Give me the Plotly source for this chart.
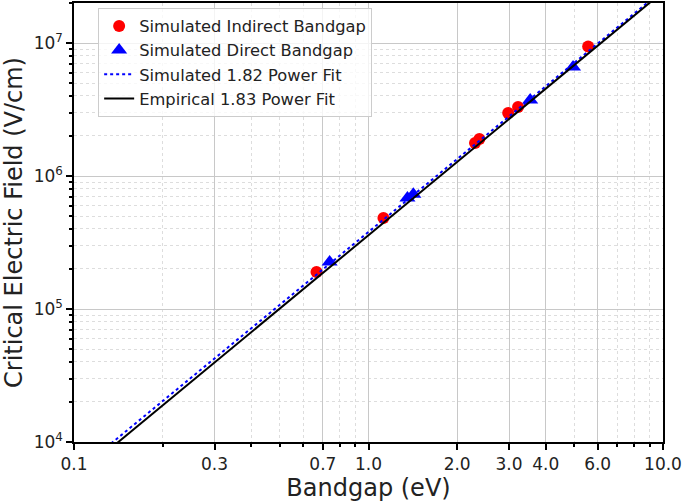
import plotly.graph_objects as go

# simulated indirect bandgap points (eV, V/cm)
indirect_eg = [0.666, 1.124, 2.30, 2.38, 2.98, 3.22, 5.57]
indirect_ec = [1.90e5, 4.83e5, 1.77e6, 1.90e6, 2.98e6, 3.30e6, 9.4e6]

# simulated direct bandgap points
direct_eg = [0.738, 1.356, 1.42, 3.54, 4.95]
direct_ec = [2.26e5, 6.83e5, 7.3e5, 3.73e6, 6.6e6]

# fit lines, read at the ends of the x range
fit_eg = [0.1, 10.0]
sim_fit_ec = [5.75e3, 2.51e7]
emp_fit_ec = [5.3e3, 2.43e7]

x_ticks = [0.1, 0.3, 0.7, 1.0, 2.0, 3.0, 4.0, 6.0, 10.0]
x_minor = [0.2, 0.4, 0.5, 0.6, 0.8, 0.9, 5.0, 7.0, 8.0, 9.0]
y_ticks = [1e4, 1e5, 1e6, 1e7]
y_minor = [m * 10 ** d for d in range(4, 8) for m in range(2, 10)]

font = "DejaVu Sans, Verdana, sans-serif"

fig = go.Figure()
fig.add_trace(go.Scatter(x=indirect_eg, y=indirect_ec, mode="markers", name="Simulated Indirect Bandgap",
    marker=dict(symbol="circle", size=12, color="red")))
fig.add_trace(go.Scatter(x=direct_eg, y=direct_ec, mode="markers", name="Simulated Direct Bandgap",
    marker=dict(symbol="triangle-up", size=14, color="blue")))
fig.add_trace(go.Scatter(x=fit_eg, y=sim_fit_ec, mode="lines", name="Simulated 1.82 Power Fit",
    line=dict(color="blue", width=2, dash="dot")))
fig.add_trace(go.Scatter(x=fit_eg, y=emp_fit_ec, mode="lines", name="Empirical 1.83 Power Fit",
    line=dict(color="black", width=2)))

axis_common = dict(
    showline=True, linecolor="black", linewidth=1.5, mirror=True,
    ticks="outside", ticklen=6, tickwidth=1.5, tickcolor="black",
    showgrid=True, gridcolor="#c8c8c8", gridwidth=1,
    tickfont=dict(size=17, color="#222"), zeroline=False, automargin=False,
)

fig.update_xaxes(type="log", range=[-1, 1], tickvals=x_ticks,
    ticktext=["{:.1f}".format(v) for v in x_ticks],
    title=dict(text="Bandgap (eV)", font=dict(size=24, color="#222"), standoff=2),
    minor=dict(tickvals=x_minor, ticks="outside", ticklen=3, tickcolor="black",
               showgrid=True, gridcolor="#dddddd", griddash="dot", gridwidth=1),
    **axis_common)
fig.update_yaxes(type="log", range=[4, 7.301], tickvals=y_ticks,
    ticktext=["10<sup>{}</sup>".format(d) for d in range(4, 8)],
    title=dict(text="Critical Electric Field (V/cm)", font=dict(size=24, color="#222"), standoff=4),
    minor=dict(tickvals=y_minor, ticks="outside", ticklen=3, tickcolor="black",
               showgrid=True, gridcolor="#dddddd", griddash="dot", gridwidth=1),
    **axis_common)

fig.update_layout(
    width=685, height=502,
    margin=dict(l=74, r=22, t=3, b=60),
    paper_bgcolor="white", plot_bgcolor="white",
    font=dict(family=font, color="#222"),
    showlegend=True,
    legend=dict(x=0.041, y=0.989, xanchor="left", yanchor="top",
                bgcolor="rgba(255,255,255,0.8)", bordercolor="#cccccc", borderwidth=1,
                font=dict(size=16.3), tracegroupgap=0, itemwidth=30),
)

# page body has an 8px default margin; drop it so the figure sits at the corner
fig.write_html("out.html", config={"displayModeBar": False},
               post_script="document.body.style.margin='0px';")
